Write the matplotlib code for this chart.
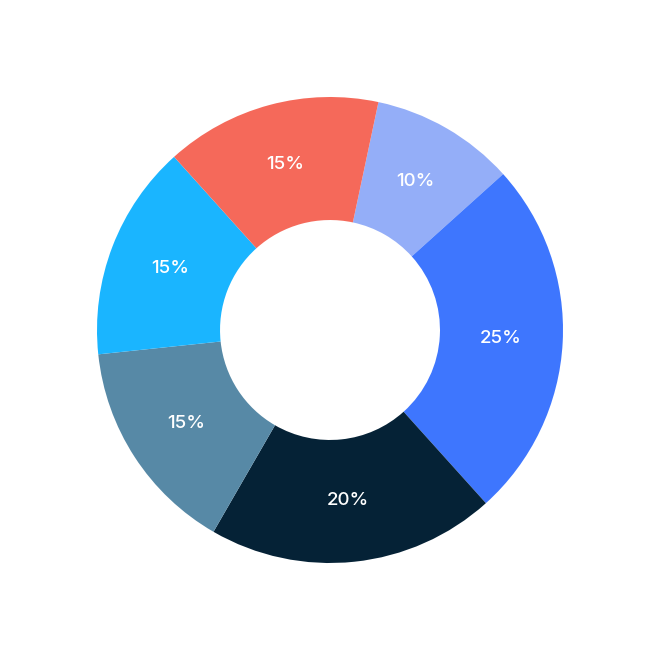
import matplotlib
matplotlib.use("Agg")
import matplotlib.pyplot as plt

labels = ["10%", "25%", "20%", "15%", "15%", "15%"]
values = [10, 25, 20, 15, 15, 15]
colors = ["#94AEF8", "#3E76FE", "#052236", "#5789A6", "#1AB5FF", "#F5695A"]

W, H = 660, 659
fig = plt.figure(figsize=(W / 100, H / 100), dpi=100)
ax = fig.add_axes([0, 0, 1, 1])
R = 233.0
cx, cy = 330.0, 330.0

wedges, texts = ax.pie(
    values,
    colors=colors,
    startangle=78,
    counterclock=False,
    radius=1.0,
    labels=labels,
    labeldistance=0.735,
    wedgeprops=dict(width=0.528, linewidth=0),
    textprops=dict(color="white", fontsize=13.5, family=["Inter", "DejaVu Sans"], fontweight="medium",
                   ha="center", va="center"),
)
ax.set_xlim(-cx / R, (W - cx) / R)
ax.set_ylim(-(H - cy) / R, cy / R)
ax.set_aspect("equal")
ax.axis("off")

fig.savefig("out.png", dpi=100, facecolor="white")
